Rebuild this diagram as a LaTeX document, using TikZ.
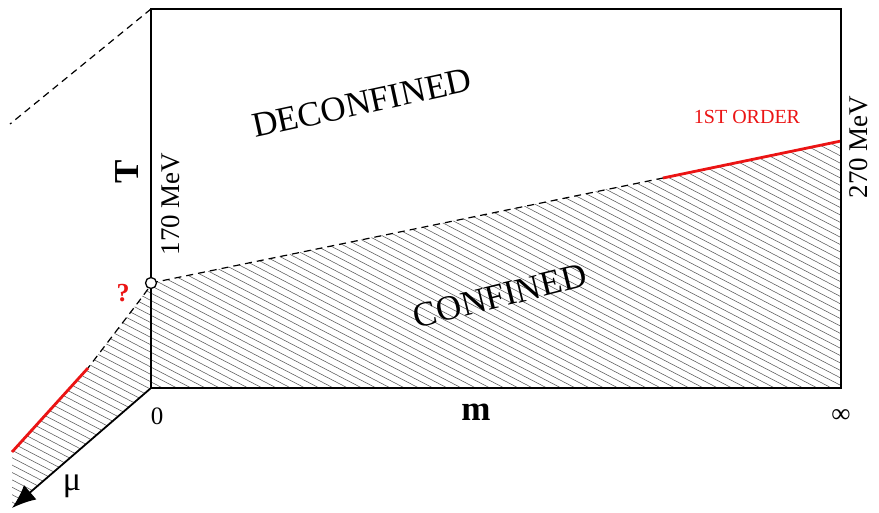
\documentclass[tikz,border=0pt]{standalone}
\usepackage{fontspec}
\setmainfont{Liberation Serif}
\usepackage{tikz}
\usetikzlibrary{arrows.meta}
\definecolor{PhaseRed}{RGB}{235, 20, 20}
\newcommand{\hatchlines}{%
  \foreach \k in {-120,...,80}
    \draw[hatch] (0,\k*7.4) -- ++(900,468);}

\begin{document}
\begin{tikzpicture}[x=1pt, y=-1pt,
    hatch/.style={line width=0.55pt, black!65},
    axis/.style={line width=1.8pt, black},
    bound/.style={line width=1.2pt, dash pattern=on 7pt off 5pt},
    redline/.style={line width=2.8pt, PhaseRed},
    lbl/.style={inner sep=0pt}]
        \useasboundingbox (0,0) rectangle (879,512);
        % corners of the phase diagram
        \coordinate (O)    at (151,388);
        \coordinate (Ttop) at (151,9);
        \coordinate (Mend) at (841,388);
        \coordinate (Crit) at (151,283);
        \coordinate (Fo)   at (663,178);
        \coordinate (Rinf) at (841,141);
        \coordinate (Lend) at (88,368);
        \coordinate (Lred) at (12,452);
        \coordinate (Mu)   at (12,508);
        \coordinate (Far)  at (10,124);
        % hatched confined regions
        \begin{scope}
          \clip (Crit) -- (Rinf) -- (Mend) -- (O) -- cycle;
          \hatchlines
        \end{scope}
        \begin{scope}
          \clip (Crit) .. controls (140,300) .. (Lend) -- (Lred) -- (Mu)
                -- (O) -- cycle;
          \hatchlines
        \end{scope}
        % boundaries
        \draw[bound] (Crit) -- (Fo);
        \draw[redline] (Fo) -- (Rinf);
        \draw[bound] (148,289) .. controls (140,300) .. (Lend);
        \draw[redline] (Lend) -- (Lred);
        \draw[bound] (Ttop) -- (Far);
        % axes and frame
        \draw[axis] (Ttop) rectangle (Mend);
        \draw[axis, -{Latex[length=24pt, width=19pt]}] (O) -- (Mu);
        \draw[line width=1.3pt, fill=white] (Crit) circle (5.5pt);
        % labels
        \node[lbl, rotate=12.3, font=\fontsize{35}{40}\selectfont]
             (deconf) at (362,103) {DECONFINED};
        \node[lbl, rotate=14, font=\fontsize{35}{40}\selectfont]
             (conf) at (500,296) {CONFINED};
        \node[lbl, PhaseRed, font=\fontsize{20}{24}\selectfont]
             (order) at (747,117) {1ST ORDER};
        \node[lbl, rotate=90, font=\fontsize{35}{40}\selectfont\bfseries]
             (tlab) at (127,172) {T};
        \node[lbl, rotate=90, font=\fontsize{27}{30}\selectfont]
             (tlow) at (171,204) {170 MeV};
        \node[lbl, rotate=90, font=\fontsize{27}{30}\selectfont]
             (thigh) at (859,147) {270 MeV};
        \node[lbl, font=\fontsize{25}{28}\selectfont] (zero) at (157,416) {0};
        \node[lbl, font=\fontsize{35}{40}\selectfont\bfseries]
             (mlab) at (476,412) {m};
        \node[lbl, font=\fontsize{27}{30}\selectfont] (inf) at (841,416) {∞};
        \node[lbl, font=\fontsize{34}{38}\selectfont] (mulab) at (72,486) {μ};
        \node[lbl, PhaseRed, font=\fontsize{26}{30}\selectfont\bfseries]
             (quest) at (123,293) {?};
      \end{tikzpicture}
\end{document}
